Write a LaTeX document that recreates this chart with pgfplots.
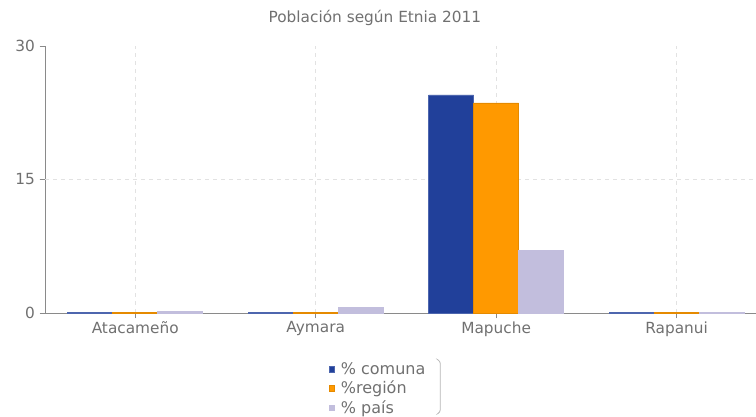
\documentclass[border=0pt]{standalone}
\usepackage{fontspec}
\setmainfont{DejaVu Sans}
\usepackage{pgfplots}
\pgfplotsset{compat=1.18}
\definecolor{comuna}{HTML}{21409A}
\definecolor{region}{HTML}{FF9900}
\definecolor{pais}{HTML}{C2BEDD}
\definecolor{txt}{HTML}{707070}
\definecolor{axln}{HTML}{8A8A8A}
\definecolor{grd}{HTML}{E2E2E2}
\begin{document}
\begin{tikzpicture}
\path[use as bounding box] (-33.75pt,-78pt) rectangle (533.25pt,234.75pt);
\begin{axis}[
    scale only axis,
    width=533.25pt, height=200.25pt,
    ybar=0pt, bar width=33.75pt,
    xmin=-0.5, xmax=3.44,
    ymin=0, ymax=30,
    ytick={0,15,30},
    xtick={0,1,2,3},
    xticklabels={Atacameño,Aymara,Mapuche,Rapanui},
    axis x line*=bottom, axis y line*=left,
    axis line style={axln, line width=0.6pt, -},
    tick style={axln, line width=0.6pt},
    major tick length=4pt,
    xtick align=outside, ytick align=outside,
    xmajorgrids,
    grid style={grd, dashed, line width=0.6pt},
    extra y ticks={15},
    extra y tick labels={},
    extra y tick style={ymajorgrids, grid style={grd, dashed, line width=0.6pt}},
    /pgf/number format/assume math mode=true,
    tick label style={font=\fontsize{11.5}{13}\selectfont, text=txt},
    xticklabel style={yshift=1pt},
    title={Población según Etnia 2011},
    title style={font=\fontsize{11.5}{13}\selectfont, text=txt, at={(0.464,1)}, anchor=center, yshift=15pt},
    clip=false,
    legend style={at={(0.393,-0.165)}, anchor=north west, draw=none, fill=none,
        font=\fontsize{12}{13}\selectfont, text=txt, legend cell align=left,
        row sep=-0.5pt, nodes={inner xsep=4.5pt}},
    legend image code/.code={\fill[#1] (0pt,-1.8pt) rectangle (4.2pt,2.2pt);},
]
\addplot[fill=comuna, draw=comuna!80!white, line width=0.4pt] coordinates {(0,0.05) (1,0.05) (2,24.5) (3,0.05)};
\addlegendentry{\% comuna}
\addplot[fill=region, draw=region!90!black, line width=0.4pt] coordinates {(0,0.05) (1,0.07) (2,23.6) (3,0.1)};
\addlegendentry{\%región}
\addplot[fill=pais, draw=pais, line width=0.4pt] coordinates {(0,0.2) (1,0.6) (2,7.0) (3,0.05)};
\addlegendentry{\% país}
\draw[grd!80!black, line width=0.6pt, rounded corners=2pt] (axis description cs:0.553,-0.176) -- (axis description cs:0.556,-0.18) -- (axis description cs:0.556,-0.372) -- (axis description cs:0.553,-0.376);
\end{axis}
\end{tikzpicture}
\end{document}
